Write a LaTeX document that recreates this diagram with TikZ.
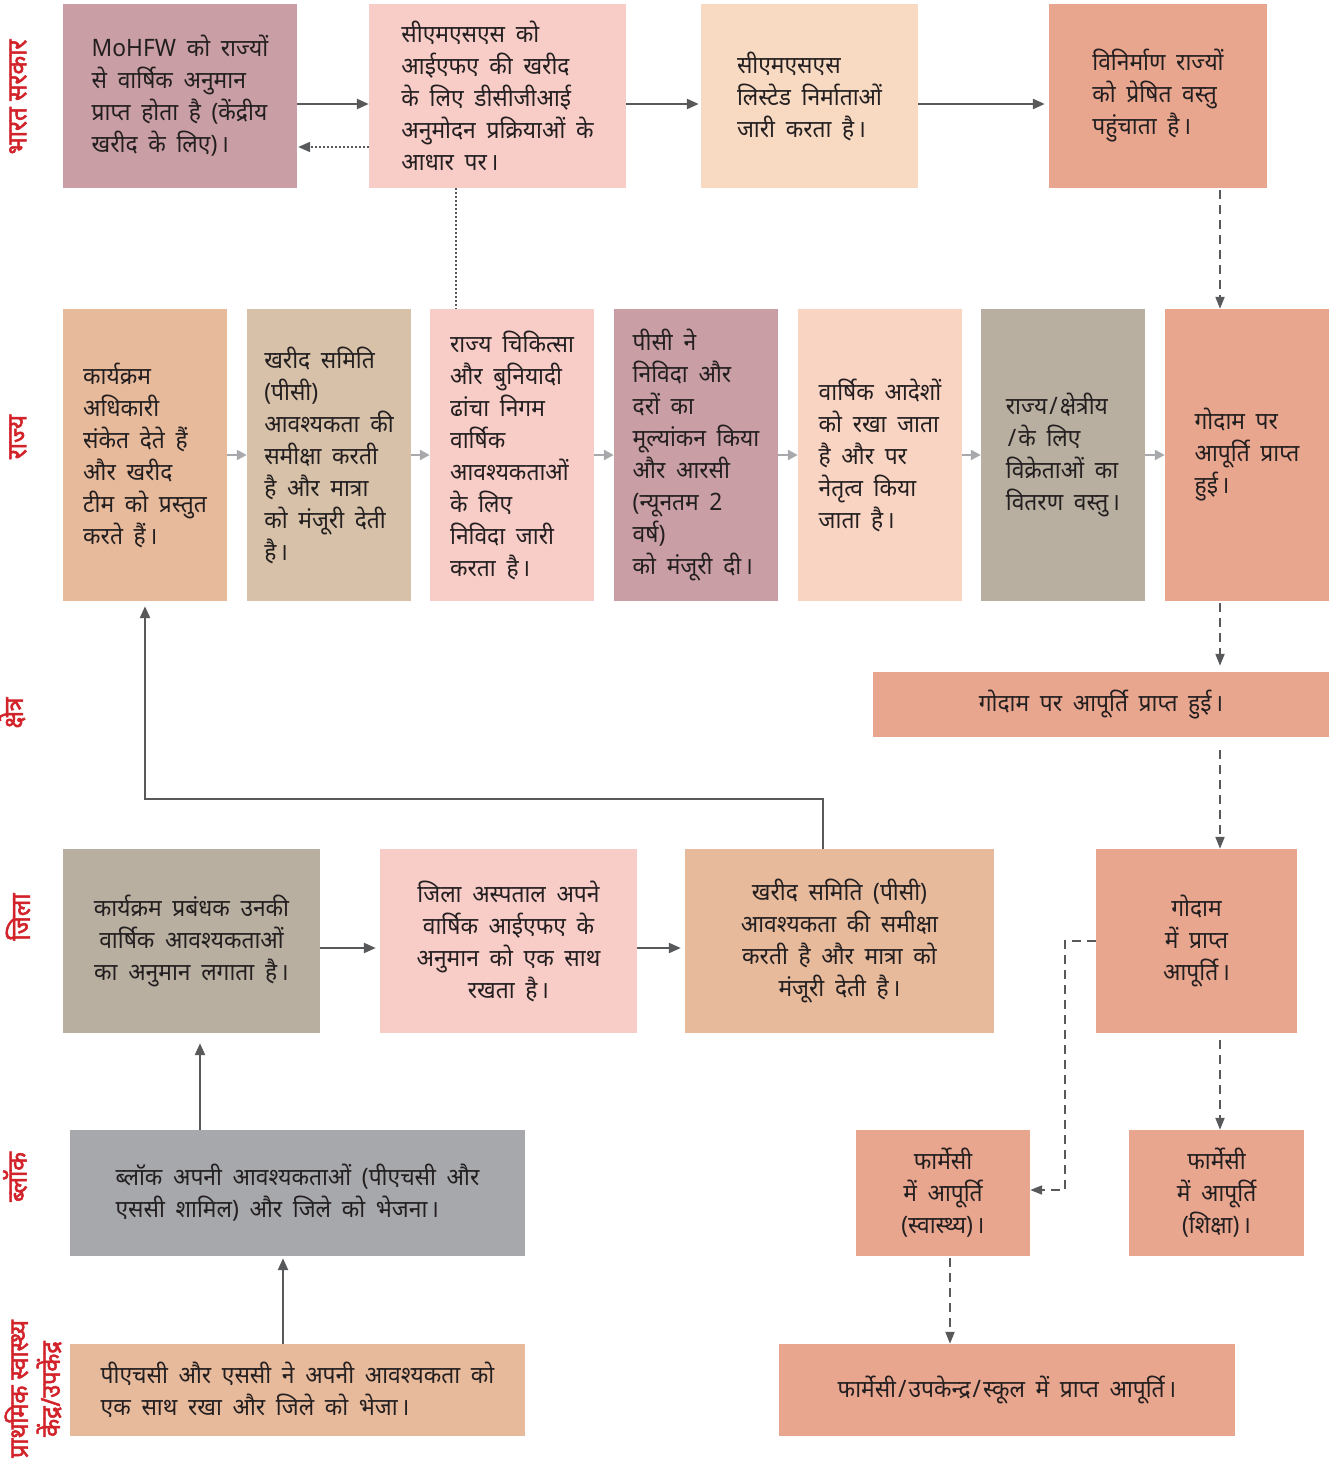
\documentclass[tikz,border=0pt]{standalone}
\usepackage{fontspec}
\newfontfamily\dev[Script=Devanagari,FakeStretch=0.95,WordSpace=1.8]{Noto Sans}
\newfontfamily\devlab[Script=Devanagari,FakeStretch=0.9,FakeBold=2]{Noto Sans}
\newcommand\dnd{\kern3pt।}
\newcommand\sls{\kern2pt/\kern2pt}
\usetikzlibrary{arrows.meta}
\definecolor{cMauve}{HTML}{C99EA4}
\definecolor{cPink}{HTML}{F9CDC7}
\definecolor{cPeach}{HTML}{F8D9C1}
\definecolor{cSalmon}{HTML}{E9A68F}
\definecolor{cOrange}{HTML}{E8BA9C}
\definecolor{cTan}{HTML}{D7C1A8}
\definecolor{cLight}{HTML}{FAD4C3}
\definecolor{cTaupe}{HTML}{B8AFA0}
\definecolor{cGray}{HTML}{A7A8AC}
\definecolor{cArrow}{HTML}{58595B}
\definecolor{cArrowL}{HTML}{A7A9AC}
\definecolor{cRed}{HTML}{D2232A}
\definecolor{cText}{HTML}{231F20}
\begin{document}
\begin{tikzpicture}[x=1pt,y=-1pt,
  box/.style 2 args={inner sep=0pt, minimum width=#1, minimum height=#2, text=cText, align=left,
    font=\dev\fontsize{24}{32}\selectfont},
  cbox/.style 2 args={box={#1}{#2}, align=center},
  lab/.style={rotate=90, text=cRed, font=\devlab\fontsize{27}{30}\selectfont, align=center},
  arr/.style={draw=cArrow, line width=2.4pt, -{Triangle[length=12pt,width=10pt]}},
  garr/.style={draw=cArrowL, line width=2.4pt, -{Triangle[length=10pt,width=10pt]}},
  dsh/.style={draw=cArrow, line width=2pt, dash pattern=on 9pt off 6pt, -{Triangle[length=12pt,width=9pt]}},
  dotl/.style={draw=cArrow, line width=1.8pt, dash pattern=on 1.5pt off 2.5pt},
]
\useasboundingbox (0,0) rectangle (1341,1466);

% ---- lane labels
\node[lab] (l1) at (18,97) {भारत सरकार};
\node[lab] (l2) at (18,437) {राज्य};
\node[lab] (l3) at (12,713) {क्षेत्र};
\node[lab] (l4) at (18,917) {जिला};
\node[lab] (l5) at (15,1177) {ब्लॉक};
\node[lab, font=\devlab\fontsize{26}{32}\selectfont] (l6) at (33,1389) {प्राथमिक स्वास्थ्य\\केंद्र/उपकेंद्र};

% ---- row 1
\node[box={234}{184}, fill=cMauve] (a1) at (180,96) {MoHFW को राज्यों\\से वार्षिक अनुमान\\प्राप्त होता है (केंद्रीय\\खरीद के लिए)\dnd};
\node[box={257}{184}, fill=cPink] (a2) at (497.5,96) {सीएमएसएस को\\आईएफए की खरीद\\के लिए डीसीजीआई\\अनुमोदन प्रक्रियाओं के\\आधार पर\dnd};
\node[box={217}{184}, fill=cPeach] (a3) at (809.5,96) {सीएमएसएस\\लिस्टेड निर्माताओं\\जारी करता है\dnd};
\node[box={218}{184}, fill=cSalmon] (a4) at (1158,96) {विनिर्माण राज्यों\\को प्रेषित वस्तु\\पहुंचाता है\dnd};

% ---- row 2
\node[box={164}{292}, fill=cOrange] (b1) at (145,455) {कार्यक्रम\\अधिकारी\\संकेत देते हैं\\और खरीद\\टीम को प्रस्तुत\\करते हैं\dnd};
\node[box={164}{292}, fill=cTan] (b2) at (329,455) {खरीद समिति\\(पीसी)\\आवश्यकता की\\समीक्षा करती\\है और मात्रा\\को मंजूरी देती\\है\dnd};
\node[box={164}{292}, fill=cPink] (b3) at (512,455) {राज्य चिकित्सा\\और बुनियादी\\ढांचा निगम\\वार्षिक\\आवश्यकताओं\\के लिए\\निविदा जारी\\करता है\dnd};
\node[box={164}{292}, fill=cMauve] (b4) at (696,455) {पीसी ने\\निविदा और\\दरों का\\मूल्यांकन किया\\और आरसी\\(न्यूनतम 2\\वर्ष)\\को मंजूरी दी\dnd};
\node[box={164}{292}, fill=cLight] (b5) at (880,455) {वार्षिक आदेशों\\को रखा जाता\\है और पर\\नेतृत्व किया\\जाता है\dnd};
\node[box={164}{292}, fill=cTaupe] (b6) at (1063,455) {राज्य\sls क्षेत्रीय\\\sls के लिए\\विक्रेताओं का\\वितरण वस्तु\dnd};
\node[box={164}{292}, fill=cSalmon] (b7) at (1247,455) {गोदाम पर\\आपूर्ति प्राप्त\\हुई\dnd};

% ---- row 3
\node[cbox={456}{65}, fill=cSalmon] (c1) at (1101,704.5) {गोदाम पर आपूर्ति प्राप्त हुई\dnd};

% ---- row 4
\node[cbox={257}{184}, fill=cTaupe] (d1) at (191.5,941) {कार्यक्रम प्रबंधक उनकी\\वार्षिक आवश्यकताओं\\का अनुमान लगाता है\dnd};
\node[cbox={257}{184}, fill=cPink] (d2) at (508.5,941) {जिला अस्पताल अपने\\वार्षिक आईएफए के\\अनुमान को एक साथ\\रखता है\dnd};
\node[cbox={309}{184}, fill=cOrange] (d3) at (839.5,941) {खरीद समिति (पीसी)\\आवश्यकता की समीक्षा\\करती है और मात्रा को\\मंजूरी देती है\dnd};
\node[cbox={201}{184}, fill=cSalmon] (d4) at (1196.5,941) {गोदाम\\में प्राप्त\\आपूर्ति\dnd};

% ---- row 5
\node[box={455}{126}, fill=cGray] (bl) at (297.5,1193) {ब्लॉक अपनी आवश्यकताओं (पीएचसी और\\एससी शामिल) और जिले को भेजना\dnd};
\node[cbox={174}{126}, fill=cSalmon] (e1) at (943,1193) {फार्मेसी\\में आपूर्ति\\(स्वास्थ्य)\dnd};
\node[cbox={175}{126}, fill=cSalmon] (e2) at (1216.5,1193) {फार्मेसी\\में आपूर्ति\\(शिक्षा)\dnd};

% ---- row 6
\node[box={455}{92}, fill=cOrange] (phc) at (297.5,1390) {पीएचसी और एससी ने अपनी आवश्यकता को\\एक साथ रखा और जिले को भेजा\dnd};
\node[cbox={456}{92}, fill=cSalmon] (f1) at (1007,1390) {फार्मेसी\sls उपकेन्द्र\sls स्कूल में प्राप्त आपूर्ति\dnd};

% ---- helper coordinates
\coordinate (col) at (1220,0);
\coordinate (turn) at (823,799);

% ---- row 1 connectors
\draw[arr] ([yshift=-8pt]a1.east) -- ([yshift=-8pt]a2.west);
\draw[dotl, -{Triangle[length=12pt,width=10pt]}] ([yshift=-51pt]a2.west) -- ([yshift=-51pt,xshift=1pt]a1.east);
\draw[arr, shorten >=2pt] ([yshift=-8pt]a2.east) -- ([yshift=-8pt]a3.west);
\draw[arr, shorten >=4pt] ([yshift=-8pt]a3.east) -- ([yshift=-8pt]a4.west);
\draw[dotl] (a2.south -| 456,0) -- (b3.north -| 456,0);
\draw[dsh] ([yshift=-2pt]a4.south -| col) -- (b7.north -| col);

% ---- row 2 connectors
\draw[garr] (b1.east) -- (b2.west);
\draw[garr] (b2.east) -- (b3.west);
\draw[garr] (b3.east) -- (b4.west);
\draw[garr] (b4.east) -- (b5.west);
\draw[garr] (b5.east) -- (b6.west);
\draw[garr] (b6.east) -- (b7.west);

% ---- vertical supply chain
\draw[dsh, shorten >=6pt] ([yshift=-2pt]b7.south -| col) -- (c1.north -| col);
\draw[dsh] ([yshift=-13pt]c1.south -| col) -- (d4.north -| col);
\draw[dsh] ([yshift=-7pt]d4.south -| col) -- (e2.north -| col);
\draw[dsh] (d4.west) -- ++(-31,0) |- ([yshift=3pt]e1.east);
\draw[dsh] ([yshift=-2pt]e1.south -| 950,0) -- (f1.north -| 950,0);

% ---- district row
\draw[arr, shorten >=4pt] ([yshift=-7pt]d1.east) -- ([yshift=-7pt]d2.west);
\draw[arr, shorten >=4pt] ([yshift=-7pt]d2.east) -- ([yshift=-7pt]d3.west);
\draw[draw=cArrow, line width=2.4pt, -{Triangle[length=12pt,width=10pt]}, shorten >=5pt] (d3.north -| turn) -- (turn) -| (b1.south);

% ---- block / PHC
\draw[arr, shorten >=10pt] (bl.north -| 200,0) -- (d1.south -| 200,0);
\draw[arr, shorten >=2pt] (phc.north -| 283,0) -- (bl.south -| 283,0);
\end{tikzpicture}
\end{document}
